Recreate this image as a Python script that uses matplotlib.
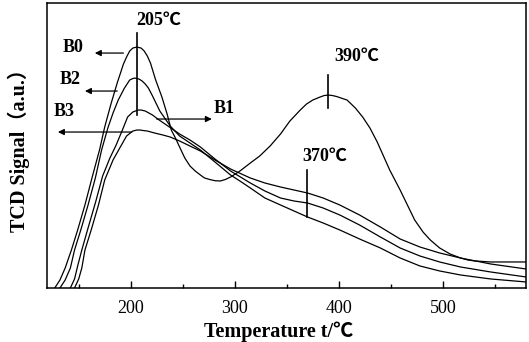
import matplotlib
matplotlib.use("Agg")
import matplotlib.pyplot as plt

plt.rcParams['font.family'] = ['Liberation Serif', 'Noto Sans CJK SC', 'DejaVu Serif']

# curves: temperature (C) and signal (arbitrary units)
b0_t = [127, 132, 137, 143, 149, 156, 163, 170, 175, 181, 187, 193, 196, 199,
        202, 206, 210, 213, 216, 219, 224, 230, 235, 239, 243, 247, 252, 257,
        262, 267, 271, 276, 281, 286, 291, 296, 305, 315, 324, 334, 344, 353,
        363, 369, 375, 382, 386, 390, 394, 398, 408, 416, 423, 430, 437, 443,
        449, 459, 466, 473, 481, 488, 497, 507, 517, 524, 531, 546, 565, 580]
b0_s = [0, 8, 20, 38, 58, 83, 111, 138, 161, 184, 205, 224, 231, 237,
        240, 241, 240, 237, 232, 225, 208, 191, 174, 158, 150, 141, 130, 122,
        117, 113, 110, 108.5, 107.3, 107, 108.5, 111, 117, 125, 132, 142, 154, 167,
        178, 184, 188, 191, 192.5, 193, 192.5, 191.5, 188, 180, 171, 160, 146, 132,
        118, 98, 83, 68, 56, 48, 40, 34, 30, 28, 27, 26, 26, 26]

b2_t = [132, 137, 142, 146, 152, 159, 166, 172, 178, 183, 188, 194, 199, 202,
        204, 208, 211, 214, 217, 221, 228, 238, 247, 257, 267, 281, 296, 305,
        315, 329, 344, 357, 370, 385, 401, 420, 440, 459, 478, 497, 517, 546, 580]
b2_s = [0, 8, 20, 38, 58, 83, 110, 138, 160, 175, 188, 200, 208, 209.5,
        210, 209, 207, 204, 200, 192, 177, 162, 152, 145, 138, 126, 113, 107,
        100, 90, 83, 77, 71, 65, 58, 49, 40, 30, 22, 17, 13, 9, 6]

b1_t = [142, 146, 149, 153, 159, 166, 173, 180, 186, 192, 197, 202, 207, 210,
        214, 221, 226, 233, 240, 247, 257, 267, 281, 296, 315, 329, 344, 357,
        370, 385, 401, 420, 440, 459, 478, 497, 517, 546, 580]
b1_s = [0, 9, 22, 38, 60, 85, 112, 130, 143, 158, 171, 176, 178, 178,
        177, 173, 169, 164, 159, 154, 148, 141, 129, 117, 105, 97, 90, 87,
        85, 80, 73, 63, 51, 40, 32, 26, 21, 16, 11]

b3_t = [146, 150, 153, 156, 162, 169, 175, 183, 190, 196, 202, 206, 209,
        212, 216, 223, 231, 238, 247, 257, 267, 281, 296, 315, 329, 344, 357,
        370, 385, 401, 420, 440, 459, 478, 497, 517, 546, 580]
b3_s = [0, 9, 20, 38, 58, 83, 108, 128, 141, 152, 157, 158, 158,
        157.5, 157, 155, 153, 151, 147, 142, 137, 128, 119, 110, 105, 101, 98,
        95, 90, 83, 73, 61, 49, 41, 35, 30, 24, 19]

# peak markers: temperature, signal from, signal to, label, label position
peak_t = [206, 389.7, 369.5]
peak_lo = [173, 180, 71]
peak_hi = [255, 213, 118]
peak_txt = ['205℃', '390℃', '370℃']
peak_txt_xy = [(227, 268), (417, 232), (387, 132)]

# sample labels with arrows: name, text position, arrow start, arrow end
lab_names = ['B0', 'B2', 'B3', 'B1']
lab_xy = [(144.5, 241), (141.5, 209), (136, 177), (290, 180)]
arr_from = [(193, 235), (187, 197), (201, 156), (225, 169)]
arr_to = [(165.5, 235), (156, 197), (130, 156), (278, 169)]

fig = plt.figure(figsize=(5.29, 3.42), dpi=100)
ax = fig.add_axes([0.0888, 0.158, 0.9055, 0.833])

for t, s in [(b0_t, b0_s), (b2_t, b2_s), (b1_t, b1_s), (b3_t, b3_s)]:
    ax.plot(t, s, color='black', lw=0.9)

for x, lo, hi, txt, xy in zip(peak_t, peak_lo, peak_hi, peak_txt, peak_txt_xy):
    ax.plot([x, x], [lo, hi], color='black', lw=1.2)
    ax.text(xy[0], xy[1], txt, fontsize=13, fontweight='bold', ha='center', va='center')

for name, xy, a, b in zip(lab_names, lab_xy, arr_from, arr_to):
    ax.text(xy[0], xy[1], name, fontsize=13, fontweight='bold', ha='center', va='center')
    ax.annotate('', xy=b, xytext=a,
                arrowprops=dict(arrowstyle='-|>', color='black', lw=0.9,
                                mutation_scale=9, shrinkA=0, shrinkB=0))

ax.set_xlim(119.5, 580)
ax.set_ylim(0, 285)
ax.set_xticks([200, 300, 400, 500])
ax.set_xticks([150, 250, 350, 450, 550], minor=True)
ax.set_yticks([])
ax.tick_params(axis='x', which='major', direction='in', length=5, width=1, labelsize=13, pad=9)
ax.tick_params(axis='x', which='minor', direction='in', length=3, width=1)
for sp in ax.spines.values():
    sp.set_linewidth(1.1)

ax.set_xlabel('Temperature t/℃', fontsize=14.5, fontweight='bold', labelpad=3)
ax.xaxis.label.set_x(0.484)
ax.set_ylabel('TCD Signal（a.u.）', fontsize=14.5, fontweight='bold', labelpad=12)

fig.savefig('out.png', dpi=100)
